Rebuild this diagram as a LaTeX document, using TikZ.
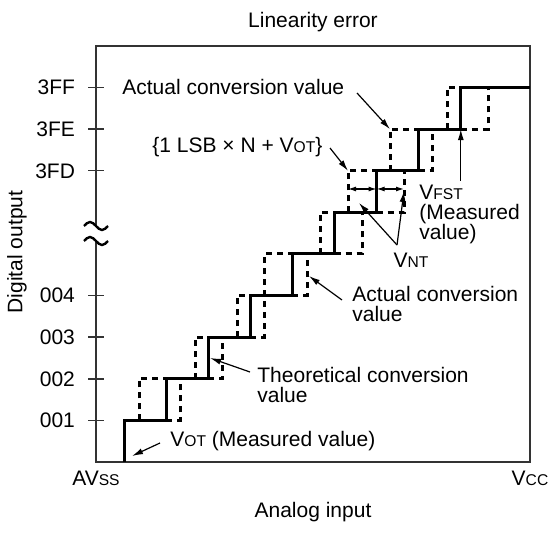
\documentclass[tikz,border=0pt]{standalone}
\usepackage{fontspec}
\setmainfont{Liberation Sans}
\usetikzlibrary{arrows.meta}
\newcommand{\lowcaps}[1]{{\fontsize{7.8}{8}\selectfont #1}}

\begin{document}
\begin{tikzpicture}[x=0.5pt,y=0.5pt,
  font=\fontsize{10.5}{10}\selectfont,
  frameline/.style={line width=0.7pt, black!80},
  solidstep/.style={line width=1.5pt},
  dashstep/.style={line width=1.5pt, dash pattern=on 3pt off 2.5pt},
  pointer/.style={line width=0.6pt, -{Latex[length=5.5pt,width=3pt]}},
  span/.style={line width=0.6pt, {Latex[length=4pt,width=2.5pt]}-{Latex[length=4pt,width=2.5pt]}},
  lbl/.style={inner sep=0pt, align=left}]
\useasboundingbox (0,0) rectangle (550,535);

\draw[frameline] (96,73) rectangle (530,489);
\draw[frameline] (88,114.6) -- (104,114.6);
\draw[frameline] (88,156.2) -- (104,156.2);
\draw[frameline] (88,197.8) -- (104,197.8);
\draw[frameline] (88,239.4) -- (104,239.4);
\draw[frameline] (88,364.2) -- (104,364.2);
\draw[frameline] (88,405.8) -- (104,405.8);
\draw[frameline] (88,447.4) -- (104,447.4);
\node[anchor=east] (t001) at (82,114.6){001};
\node[anchor=east] (t002) at (82,156.2){002};
\node[anchor=east] (t003) at (82,197.8){003};
\node[anchor=east] (t004) at (82,239.4){004};
\node[anchor=east] (t3fd) at (82,364.2){3FD};
\node[anchor=east] (t3fe) at (82,405.8){3FE};
\node[anchor=east] (t3ff) at (82,447.4){3FF};

\fill[white] (90,294) rectangle (102,309);
\draw[line width=1.2pt] (84,309) sin (90,313) cos (96,309) sin (102,305) cos (108,309);
\draw[line width=1.2pt] (84,294) sin (90,298) cos (96,294) sin (102,290) cos (108,294);

\draw[solidstep] (124,73) -- (124,114.6) -- (166.1,114.6) -- (166.1,156.2) -- (208.2,156.2)
  -- (208.2,197.8) -- (250.3,197.8) -- (250.3,239.4) -- (292.4,239.4) -- (292.4,281)
  -- (334.5,281) -- (334.5,322.6) -- (376.6,322.6) -- (376.6,364.2) -- (418.7,364.2)
  -- (418.7,405.8) -- (460.8,405.8) -- (460.8,447.4) -- (530,447.4);

\draw[dashstep] (139,114.6) -- (139,156.2) -- (166.1,156.2);
\draw[dashstep] (166.1,114.6) -- (180,114.6) -- (180,156.2);
\draw[dashstep] (195,156.2) -- (195,197.8) -- (208.2,197.8);
\draw[dashstep] (208.2,156.2) -- (222,156.2) -- (222,197.8);
\draw[dashstep] (237,197.8) -- (237,239.4) -- (250.3,239.4);
\draw[dashstep] (250.3,197.8) -- (264,197.8) -- (264,239.4);
\draw[dashstep] (264,239.4) -- (264,281) -- (292.4,281);
\draw[dashstep] (292.4,239.4) -- (307,239.4) -- (307,281);
\draw[dashstep] (320,281) -- (320,322.6) -- (334.5,322.6);
\draw[dashstep] (334.5,281) -- (362,281) -- (362,322.6);
\draw[dashstep] (348,322.6) -- (348,364.2) -- (376.6,364.2);
\draw[dashstep] (376.6,322.6) -- (404,322.6) -- (404,364.2);
\draw[dashstep] (390,364.2) -- (390,405.8) -- (418.7,405.8);
\draw[dashstep] (418.7,364.2) -- (432,364.2) -- (432,405.8);
\draw[dashstep] (447,405.8) -- (447,447.4) -- (460.8,447.4);
\draw[dashstep] (460.8,405.8) -- (488,405.8) -- (488,447.4);

\coordinate (ntl) at (348,346);
\coordinate (ntm) at (376.6,346);
\coordinate (ntr) at (404,346);
\draw[span] (ntl) -- (ntm);
\draw[span] (ntm) -- (ntr);

\node[lbl, anchor=west] (acvtop) at (122,448){Actual conversion value};
\node[lbl, anchor=west] (lsb) at (152,388){\{1 LSB \texttimes{} N + V\lowcaps{OT}\}};
\node[lbl, anchor=north west] (vfst) at (419,350){V\lowcaps{FST}\\(Measured\\value)};
\node[lbl] (vnt) at (411,275){V\lowcaps{NT}};
\node[lbl, anchor=north west] (acvmid) at (352,249){Actual conversion\\value};
\node[lbl, anchor=north west] (theo) at (257,168){Theoretical conversion\\value};
\node[lbl, anchor=west] (vot) at (170,94){V\lowcaps{OT} (Measured value)};

\coordinate (acvtopA) at (357,442);
\coordinate (acvtopB) at (390,405.8);
\coordinate (lsbA) at (330,387);
\coordinate (lsbB) at (348,364.2);
\coordinate (vfstA) at (460.8,354);
\coordinate (vfstB) at (460.8,405.8);
\coordinate (vntA) at (397,290);
\coordinate (vntB) at (359,332);
\coordinate (vntC) at (404,344);
\coordinate (acvmidA) at (342,235);
\coordinate (acvmidB) at (309,259);
\coordinate (theoA) at (250,163);
\coordinate (theoB) at (210,177);
\coordinate (votA) at (160,92);
\coordinate (votB) at (132,79);
\draw[pointer] (acvtopA) -- (acvtopB);
\draw[pointer] (lsbA) -- (lsbB);
\draw[pointer] (vfstA) -- (vfstB);
\draw[pointer] (vntA) -- (vntB);
\draw[pointer] (vntA) -- (vntC);
\draw[pointer] (acvmidA) -- (acvmidB);
\draw[pointer] (theoA) -- (theoB);
\draw[pointer] (votA) -- (votB);

\node (avss) at (96,57){AV\lowcaps{SS}};
\node (vcc) at (530,57){V\lowcaps{CC}};
\node (title) at (313,513){Linearity error};
\node (xlabel) at (313,23){Analog input};
\node[rotate=90] (ylabel) at (17,283){Digital output};

\end{tikzpicture}
\end{document}
